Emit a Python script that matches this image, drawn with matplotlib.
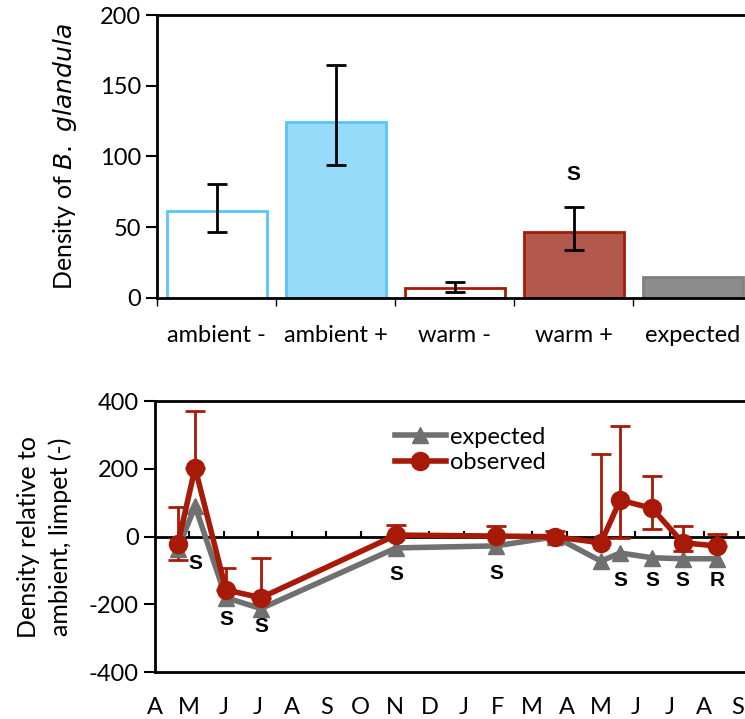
import numpy as np
import matplotlib.pyplot as plt

plt.rcParams['font.family'] = ['Lato', 'DejaVu Sans']
plt.rcParams['axes.unicode_minus'] = False

# ---- top panel data ----
cats = ['ambient -', 'ambient +', 'warm -', 'warm +', 'expected']
dens = [61.5, 124.5, 7, 46.5, 14.5]
err_lo = [15, 30.5, 3, 12.5, 0]
err_hi = [19, 40, 4, 17.5, 0]
face = ['white', '#97dbfa', 'white', '#b2584d', '#8c8c8c']
edge = ['#55c6f7', '#55c6f7', '#a81a08', '#a81a08', '#808080']
has_err = [True, True, True, True, False]

# ---- bottom panel data ----
months = ['A', 'M', 'J', 'J', 'A', 'S', 'O', 'N', 'D', 'J', 'F', 'M', 'A', 'M', 'J', 'J', 'A', 'S']
t = [0.67, 1.17, 2.07, 3.09, 7.03, 9.94, 11.66, 13.0, 13.56, 14.49, 15.39, 16.38]
observed = [-20, 203, -157, -180, 5, 2, 0, -18, 108, 84, -18, -27]
obs_lo = [48, 0, 0, 0, 0, 0, 0, 0, 112, 62, 24, 0]
obs_hi = [108, 168, 65, 118, 29, 29, 17, 261, 220, 94, 49, 35]
expected = [-35, 90, -180, -212, -33, -27, 0, -72, -48, -62, -65, -65]
sig_labels = ['', 'S', 'S', 'S', 'S', 'S', '', '', 'S', 'S', 'S', 'R']
sig_y = [0, -80, -245, -265, -110, -108, 0, 0, -128, -128, -128, -128]

RED = '#a81a08'
GREY = '#707070'

fig = plt.figure(figsize=(7.45, 7.19), dpi=100)

# ─── top: bar chart ───
ax1 = fig.add_axes([0.211, 0.586, 0.789, 0.393])
x = np.arange(len(cats))
ax1.bar(x, dens, width=0.84, color=face, edgecolor=edge, linewidth=2, zorder=2)
for i in range(len(cats)):
    if has_err[i]:
        ax1.errorbar(x[i], dens[i], yerr=[[err_lo[i]], [err_hi[i]]], fmt='none',
                     ecolor='black', elinewidth=2, capsize=7, capthick=2, zorder=3)
ax1.text(3, 87, 'S', ha='center', va='center', fontsize=15, fontweight='bold',
         family='Liberation Sans')
ax1.set_xlim(-0.5, 4.44)
ax1.set_ylim(0, 200)
ax1.set_yticks([0, 50, 100, 150, 200])
ax1.set_xticks(x)
ax1.set_xticklabels(cats, fontsize=17)
ax1.set_xticks(np.arange(-0.5, 4.5, 1), minor=True)
ax1.tick_params(axis='x', which='major', length=0, pad=20)
ax1.tick_params(axis='x', which='minor', length=6, width=1, direction='out')
ax1.tick_params(axis='y', labelsize=17, length=8, width=1.5, direction='out')
ax1.spines['right'].set_visible(False)
for s in ['top', 'left', 'bottom']:
    ax1.spines[s].set_linewidth(2)
ax1.set_ylabel('Density of $\\it{B.\\ glandula}$', fontsize=18, labelpad=15)

# ─── bottom: time series ───
ax2 = fig.add_axes([0.208, 0.065, 0.792, 0.377])
ax2.axhline(0, color='black', lw=2, zorder=1)
for m in range(1, len(months)):
    ax2.plot([m, m], [0, 14], color='black', lw=1.5, zorder=1)
ax2.plot(t, expected, color=GREY, lw=4, marker='^', ms=11, label='expected', zorder=3)
ax2.errorbar(t, observed, yerr=[obs_lo, obs_hi], fmt='none', ecolor=RED,
             elinewidth=2, capsize=7, capthick=2, zorder=2)
ax2.plot(t, observed, color=RED, lw=4, marker='o', ms=13, label='observed', zorder=4)
for xi, s, yi in zip(t, sig_labels, sig_y):
    if s:
        ax2.text(xi, yi, s, ha='center', va='center', fontsize=15, fontweight='bold',
                 family='Liberation Sans')
ax2.set_xlim(0, 17.2)
ax2.set_ylim(-400, 400)
ax2.set_yticks([-400, -200, 0, 200, 400])
ax2.set_xticks(range(len(months)))
ax2.set_xticklabels(months, fontsize=17)
ax2.tick_params(axis='x', length=0, pad=18)
ax2.tick_params(axis='y', labelsize=17, length=8, width=1.5, direction='out')
ax2.spines['right'].set_visible(False)
for s in ['top', 'left', 'bottom']:
    ax2.spines[s].set_linewidth(2)
ax2.set_ylabel('Density relative to\nambient, limpet (-)', fontsize=18, labelpad=12,
               linespacing=1.45)
leg = ax2.legend(loc='upper left', bbox_to_anchor=(0.37, 0.985), frameon=False,
                 fontsize=17, handlelength=2.2, handletextpad=0.15, labelspacing=0.2)

fig.savefig('out.png', dpi=100)
